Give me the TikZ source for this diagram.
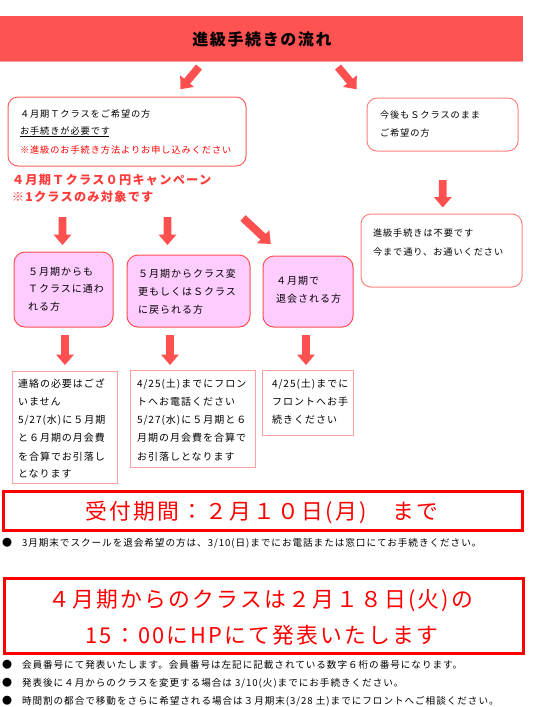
\documentclass[tikz,border=0pt]{standalone}
\usepackage{fontspec}
\setmainfont{Noto Sans CJK JP}[LetterSpace=10]
\definecolor{barred}{RGB}{255,82,82}
\definecolor{arrowred}{RGB}{255,80,80}
\definecolor{boxred}{RGB}{255,96,96}
\definecolor{softred}{RGB}{255,130,130}
\definecolor{pinkline}{RGB}{255,160,160}
\definecolor{pinkfill}{RGB}{255,204,255}
\definecolor{purered}{RGB}{255,0,0}
\definecolor{camp}{RGB}{255,60,60}
\tikzset{
  pics/barrow/.style={code={
    \fill[arrowred] (-3.9,0) -- (3.9,0) -- (3.9,#1-10.5) -- (9,#1-10.5) -- (0,#1)
      -- (-9,#1-10.5) -- (-3.9,#1-10.5) -- cycle;}},
  rbox/.style={draw=boxred, line width=1pt, rounded corners=10pt, fill=white, anchor=north west},
  sbox/.style={draw=softred, line width=1pt, rounded corners=10pt, fill=white, anchor=north west},
  pbox/.style={draw=arrowred, line width=1pt, rounded corners=11pt, fill=pinkfill, anchor=north west},
  cbox/.style={draw=pinkline, line width=1pt, fill=white, anchor=north west},
  bigbox/.style={draw=purered, line width=3pt, anchor=north west},
  tx/.style={anchor=base west, font=\fontsize{9.2}{11}\selectfont},
  tb/.style={anchor=base west, font=\fontsize{10}{12}\selectfont},
  cp/.style={anchor=base west, text=camp, font=\fontsize{12.2}{14}\selectfont\bfseries},
  bt/.style={anchor=base west, font=\fontsize{9.6}{11}\selectfont},
  bul/.style={anchor=base, font=\fontsize{10}{12}\selectfont},
  big/.style={anchor=base, text=purered, font=\fontsize{21.8}{24}\selectfont},
}
\begin{document}
\begin{tikzpicture}[x=1pt,y=-1pt, every node/.append style={inner sep=0pt, outer sep=0pt}]
\useasboundingbox (0,0) rectangle (534,707);
\fill[white] (0,0) rectangle (534,707);

% title bar
\node[fill=barred, minimum width=523pt, minimum height=45pt, anchor=north west] (title) at (0,16) {};
\draw[pinkline, line width=1pt] (title.south west) -- (title.south east);
\node[font=\fontsize{16}{18}\selectfont\bfseries] (titletext) at (262,39) {進級手続きの流れ};

% top arrows
\pic[rotate=-40] at (199,67) {barrow=29};
\pic[rotate=40] at (338,67) {barrow=29};

% box 1
\node[rbox, minimum width=238pt, minimum height=69pt] (box1) at (8,97) {};
\node[tx] (b1l1) at (20,117.5) {４月期Ｔクラスをご希望の方};
\node[tx] (b1l2) at (20,134.5) {お手続きが必要です};
\draw[line width=0.7pt] ([yshift=-2.3pt]b1l2.base west) -- ([yshift=-2.3pt,xshift=-1pt]b1l2.base east);
\node[tx, text=purered] (b1l3) at (20,153) {※進級のお手続き方法よりお申し込みください};

% campaign
\node[cp] (camp1) at (12,184.5) {４月期Ｔクラス０円キャンペーン};
\node[cp] (camp2) at (12,201.5) {※1クラスのみ対象です};

% right boxes
\node[sbox, minimum width=151pt, minimum height=53pt] (rbox1) at (367,98) {};
\node[tx] (r1l1) at (380,118.5) {今後もＳクラスのまま};
\node[tx] (r1l2) at (380,136.5) {ご希望の方};
\pic at (442.8,180) {barrow=27.5};
\node[sbox, minimum width=161pt, minimum height=73pt] (rbox2) at (361,214) {};
\node[tx] (r2l1) at (373,236.5) {進級手続きは不要です};
\node[tx] (r2l2) at (373,255.5) {今まで通り、お通いください};

% middle arrows
\pic at (62.5,217) {barrow=28};
\pic at (167.5,217) {barrow=28};
\pic[rotate=47] at (243,218) {barrow=38};

% pink boxes
\node[pbox, minimum width=99pt, minimum height=75pt] (p1) at (14,252) {};
\node[tb] (p1l1) at (28,275.5) {５月期からも};
\node[tb] (p1l2) at (28,292.8) {Ｔクラスに通わ};
\node[tb] (p1l3) at (28,310.8) {れる方};
\node[pbox, minimum width=123pt, minimum height=72pt] (p2) at (127,255) {};
\node[tb] (p2l1) at (138,277.8) {５月期からクラス変};
\node[tb] (p2l2) at (138,295.8) {更もしくはＳクラス};
\node[tb] (p2l3) at (138,313.8) {に戻られる方};
\node[pbox, minimum width=90pt, minimum height=71pt] (p3) at (263,256) {};
\node[tb] (p3l1) at (276,284.8) {４月期で};
\node[tb] (p3l2) at (276,302.8) {退会される方};

% lower arrows
\pic at (65,335) {barrow=30};
\pic at (170,335) {barrow=30};
\pic at (306,335) {barrow=30};

% white boxes
\node[cbox, minimum width=105pt, minimum height=112pt] (c1) at (12,371) {};
\node[tb] (c1l1) at (18,387.3) {連絡の必要はござ};
\node[tb] (c1l2) at (18,405.5) {いません};
\node[tb] (c1l3) at (18,423.8) {5/27(水)に５月期};
\node[tb] (c1l4) at (18,441.8) {と６月期の月会費};
\node[tb] (c1l5) at (18,460.5) {を合算でお引落し};
\node[tb] (c1l6) at (18,477.8) {となります};
\node[cbox, minimum width=125pt, minimum height=97pt] (c2) at (130,370) {};
\node[tb] (c2l1) at (137,387.3) {4/25(土)までにフロン};
\node[tb] (c2l2) at (137,405.5) {トへお電話ください};
\node[tb] (c2l3) at (137,423.8) {5/27(水)に５月期と６};
\node[tb] (c2l4) at (137,441.8) {月期の月会費を合算で};
\node[tb] (c2l5) at (137,460.5) {お引落しとなります};
\node[cbox, minimum width=91pt, minimum height=65pt] (c3) at (262,370) {};
\node[tb] (c3l1) at (272,387.3) {4/25(土)までに};
\node[tb] (c3l2) at (272,405.5) {フロントへお手};
\node[tb] (c3l3) at (272,423.8) {続きください};

% big box 1
\node[bigbox, minimum width=519pt, minimum height=39pt] (big1) at (3.5,491.5) {};
\node[big] (big1t) at (262,519.5) {受付期間：２月１０日(月)　まで};
\node[bul] (bu1) at (7,546.8) {●};
\node[bt] (bt1) at (22,546.6) {3月期末でスクールを退会希望の方は、3/10(日)までにお電話または窓口にてお手続きください。};

% big box 2
\node[bigbox, minimum width=519pt, minimum height=75pt] (big2) at (4,578) {};
\node[big] (big2t1) at (261,607.3) {４月期からのクラスは２月１８日(火)の};
\node[big] (big2t2) at (262,643.3) {15：00にHPにて発表いたします};

\node[bul] (bu2) at (7,668.8) {●};
\node[bt] (bt2) at (22,668.6) {会員番号にて発表いたします。会員番号は左記に記載されている数字６桁の番号になります。};
\node[bul] (bu3) at (7,686.8) {●};
\node[bt] (bt3) at (22,686.6) {発表後に４月からのクラスを変更する場合は 3/10(火)までにお手続きください。};
\node[bul] (bu4) at (7,704.8) {●};
\node[bt] (bt4) at (22,704.6) {時間割の都合で移動をさらに希望される場合は３月期末(3/28 土)までにフロントへご相談ください。};
\end{tikzpicture}
\end{document}
